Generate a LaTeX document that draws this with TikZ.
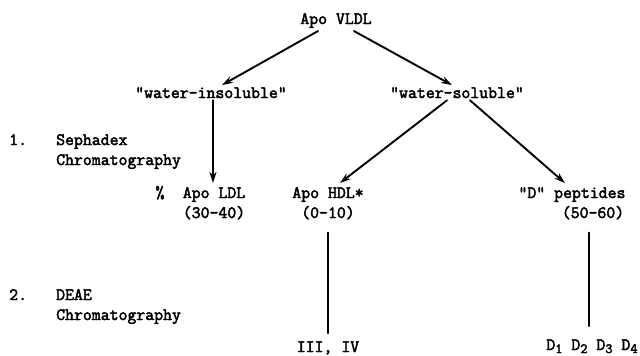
\documentclass[tikz,border=0pt]{standalone}
\usepackage{fontspec}
\newfontfamily\typew{Latin Modern Mono}[FakeBold=2.6]
\usetikzlibrary{arrows.meta}

\tikzset{
  lbl/.style={font=\typew\fontsize{17.3}{20}\selectfont, inner sep=1pt, anchor=base},
  side/.style={lbl, anchor=base west},
  arr/.style={line width=1.9pt, -{Stealth[length=11pt,width=7pt]}},
  bar/.style={line width=1.9pt}
}
\newcommand{\dsub}[1]{\raisebox{-3pt}{\fontsize{14}{15}\selectfont #1}}

\begin{document}
\begin{tikzpicture}[x=1pt,y=-1pt,line cap=round]
\useasboundingbox (0,0) rectangle (640,356);

% --- top ---
\node[lbl] (vldl)  at (336,24) {Apo VLDL};
\node[lbl] (insol) at (211,98) {"water-insoluble"};
\node[lbl] (sol)   at (457,98) {"water-soluble"};

% --- step 1 ---
\node[side] (one)  at (8,145)  {1.};
\node[side] (seph) at (55,145) {Sephadex};
\node[side] (chr1) at (55,165) {Chromatography};

\node[lbl] (pct)    at (160,198) {\%};
\node[lbl] (ldl)    at (214,198) {Apo LDL};
\node[lbl] (ldlnum) at (214,218) {(30-40)};
\node[lbl] (hdl)    at (328,198) {Apo HDL*};
\node[lbl] (hdlnum) at (328,218) {(0-10)};
\node[lbl] (pep)    at (572,198) {"D" peptides};
\node[lbl] (pepnum) at (593,218) {(50-60)};

% --- step 2 ---
\node[side] (two)  at (8,300)  {2.};
\node[side] (deae) at (55,300) {DEAE};
\node[side] (chr2) at (55,320) {Chromatography};

\node[lbl] (hiv)  at (328,352) {III, IV};
\node[lbl] (dset) at (592,350) {D\dsub{1} D\dsub{2} D\dsub{3} D\dsub{4}};

% --- arrows ---
\draw[arr] ([xshift=-18pt,yshift=-2pt]vldl.south) -- ([xshift=11pt,yshift=1pt]insol.north);
\draw[arr] ([xshift=18pt,yshift=-2pt]vldl.south) -- ([xshift=-5pt,yshift=1pt]sol.north);
\draw[arr] ([xshift=2pt,yshift=-1pt]insol.south) -- ([xshift=-1pt,yshift=3pt]ldl.north);
\draw[arr] ([xshift=-10pt,yshift=-1pt]sol.south) -- ([xshift=12pt,yshift=3pt]hdl.north);
\draw[arr] ([xshift=13pt,yshift=-1pt]sol.south) -- ([xshift=-7pt,yshift=3pt]pep.north);

% --- lines ---
\draw[bar] ([yshift=-12pt]hdlnum.south) -- ([yshift=7pt]hiv.north);
\draw[bar] ([xshift=-4pt,yshift=-12pt]pepnum.south) -- ([xshift=-3pt,yshift=12pt]dset.north);

\end{tikzpicture}
\end{document}
